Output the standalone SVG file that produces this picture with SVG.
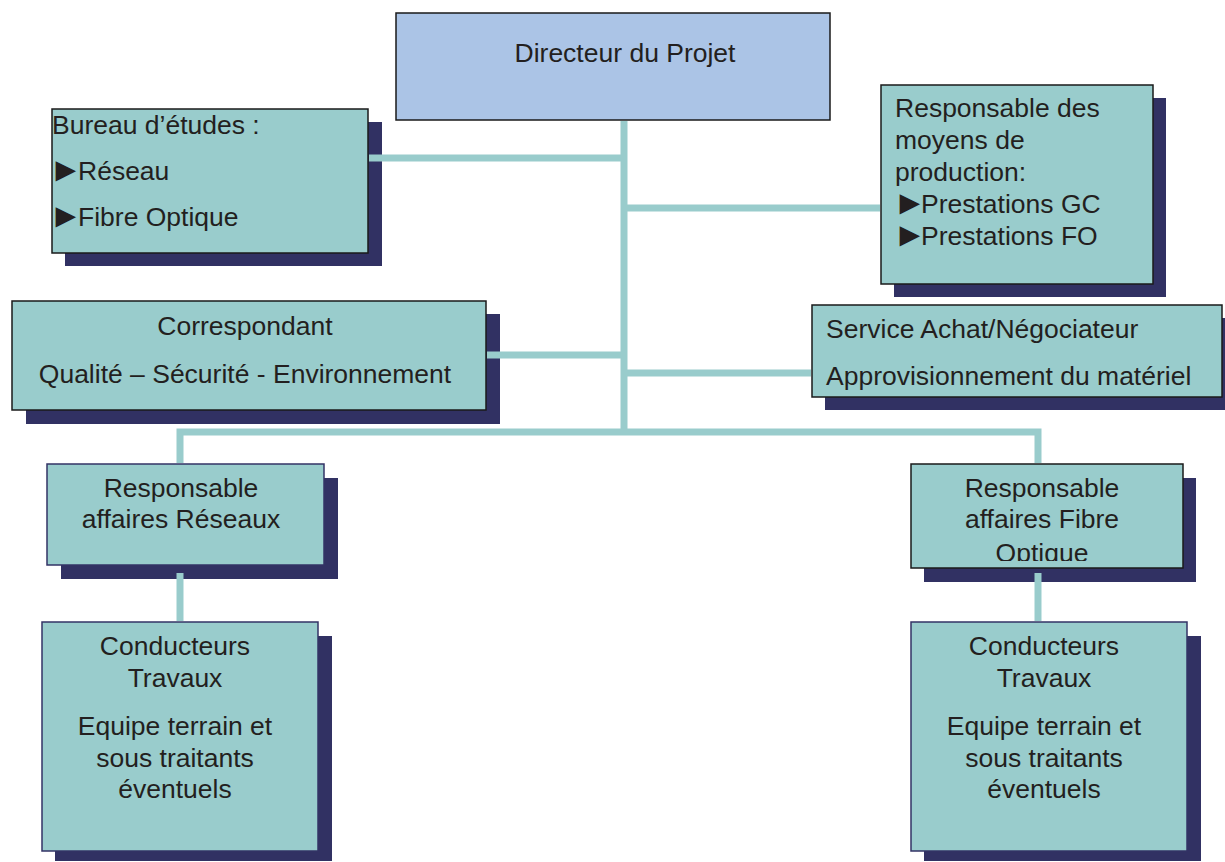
<svg xmlns="http://www.w3.org/2000/svg" width="1225" height="862" viewBox="0 0 1225 862">
  <style>
    .shadow { fill: #313163; }
    .box { fill: #99cccc; stroke: #1a1a1a; stroke-width: 1.5; }
    .box-navy { fill: #99cccc; stroke: #333366; stroke-width: 1.5; }
    .head { fill: #abc4e6; stroke: #1a1a1a; stroke-width: 1.5; }
    .link { stroke: #99cccc; stroke-width: 7; fill: none; }
    text { font-family: "Liberation Sans", Arial, sans-serif; font-size: 26.5px; fill: #231f20; }
    .c { text-anchor: middle; }
    .bullet { font-size: 34px; letter-spacing: -9px; }
  </style>
  <defs>
    <clipPath id="clip-fo"><rect x="911" y="464" width="272" height="97"/></clipPath>
  </defs>

  <rect width="1225" height="862" fill="#ffffff"/>

  <!-- Directeur du Projet -->
  <g id="directeur">
    <rect class="head" x="396" y="13" width="434" height="107"/>
    <text class="c" x="625" y="62">Directeur du Projet</text>
  </g>

  <!-- Bureau d'études -->
  <g id="bureau-etudes">
    <rect class="shadow" x="65" y="122" width="317" height="144"/>
    <rect class="box" x="52" y="109" width="316" height="144"/>
    <text x="52" y="134">Bureau d’études :</text>
    <text class="bullet" x="49" y="181">►</text>
    <text x="78" y="180">Réseau</text>
    <text class="bullet" x="49" y="227">►</text>
    <text x="78" y="226">Fibre Optique</text>
  </g>

  <!-- Responsable des moyens de production -->
  <g id="moyens-production">
    <rect class="shadow" x="894" y="98" width="272" height="199"/>
    <rect class="box" x="881" y="85" width="272" height="199"/>
    <text x="895" y="117">Responsable des</text>
    <text x="895" y="149">moyens de</text>
    <text x="895" y="181">production:</text>
    <text class="bullet" x="893" y="214">►</text>
    <text x="921" y="213">Prestations GC</text>
    <text class="bullet" x="893" y="246">►</text>
    <text x="921" y="245">Prestations FO</text>
  </g>

  <!-- Correspondant QSE -->
  <g id="correspondant-qse">
    <rect class="shadow" x="26" y="314" width="474" height="110"/>
    <rect class="box" x="12" y="301" width="474" height="109"/>
    <text class="c" x="245" y="335">Correspondant</text>
    <text class="c" x="245" y="383">Qualité – Sécurité - Environnement</text>
  </g>

  <!-- Service Achat -->
  <g id="service-achat">
    <rect class="shadow" x="825" y="318" width="400" height="92"/>
    <rect class="box" x="812" y="305" width="410" height="92"/>
    <text x="826" y="338">Service Achat/Négociateur</text>
    <text x="826" y="385">Approvisionnement du matériel</text>
  </g>

  <!-- Responsable affaires Réseaux -->
  <g id="affaires-reseaux">
    <rect class="shadow" x="61" y="478" width="277" height="101"/>
    <rect class="box-navy" x="47" y="464" width="277" height="101"/>
    <text class="c" x="181" y="497">Responsable</text>
    <text class="c" x="181" y="528">affaires Réseaux</text>
  </g>

  <!-- Responsable affaires Fibre Optique -->
  <g id="affaires-fibre">
    <rect class="shadow" x="924" y="478" width="272" height="104"/>
    <rect class="box" x="911" y="464" width="272" height="104"/>
    <g clip-path="url(#clip-fo)">
      <text class="c" x="1042" y="497">Responsable</text>
      <text class="c" x="1042" y="528">affaires Fibre</text>
      <text class="c" x="1042" y="562">Optique</text>
    </g>
  </g>

  <!-- Conducteurs Travaux (Réseaux) -->
  <g id="conducteurs-reseaux">
    <rect class="shadow" x="55" y="636" width="277" height="225"/>
    <rect class="box-navy" x="42" y="622" width="276" height="229"/>
    <text class="c" x="175" y="655">Conducteurs</text>
    <text class="c" x="175" y="687">Travaux</text>
    <text class="c" x="175" y="735">Equipe terrain et</text>
    <text class="c" x="175" y="767">sous traitants</text>
    <text class="c" x="175" y="798">éventuels</text>
  </g>

  <!-- Conducteurs Travaux (Fibre Optique) -->
  <g id="conducteurs-fibre">
    <rect class="shadow" x="924" y="636" width="277" height="225"/>
    <rect class="box-navy" x="911" y="622" width="276" height="229"/>
    <text class="c" x="1044" y="655">Conducteurs</text>
    <text class="c" x="1044" y="687">Travaux</text>
    <text class="c" x="1044" y="735">Equipe terrain et</text>
    <text class="c" x="1044" y="767">sous traitants</text>
    <text class="c" x="1044" y="798">éventuels</text>
  </g>

  <!-- connectors, drawn over the drop shadows -->
  <g id="connectors">
    <line class="link" x1="624" y1="121" x2="624" y2="433"/>
    <line class="link" x1="369" y1="158" x2="627" y2="158"/>
    <line class="link" x1="621" y1="208" x2="880" y2="208"/>
    <line class="link" x1="487" y1="355" x2="627" y2="355"/>
    <line class="link" x1="621" y1="373" x2="811" y2="373"/>
    <polyline class="link" points="180,463 180,432 1038,432 1038,463"/>
    <line class="link" x1="180" y1="573" x2="180" y2="621"/>
    <line class="link" x1="1038" y1="573" x2="1038" y2="621"/>
  </g>
</svg>
